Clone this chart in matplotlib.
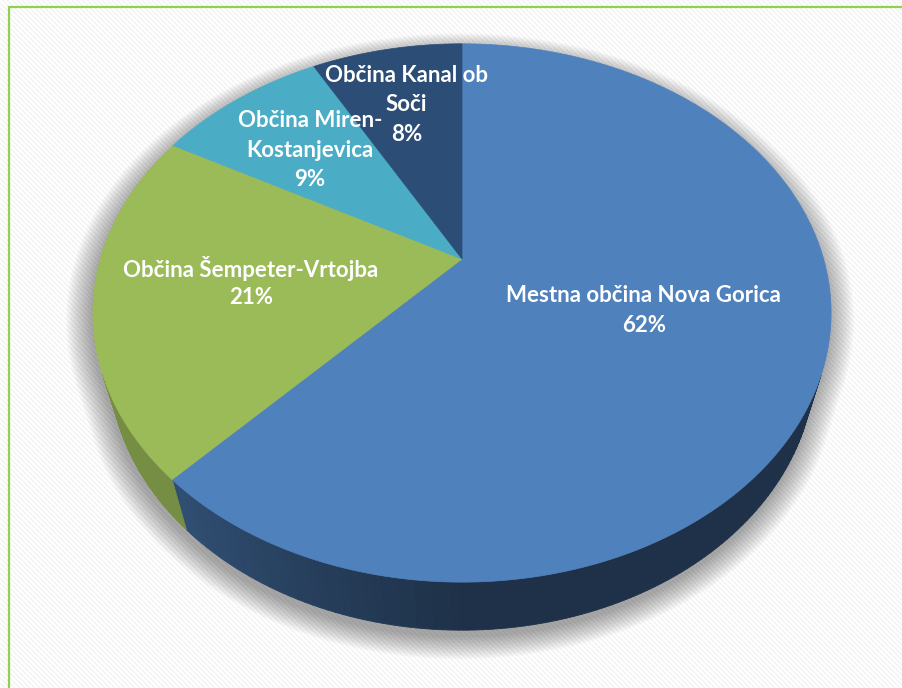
import numpy as np
import matplotlib.pyplot as plt
from matplotlib.patches import Polygon
from matplotlib.collections import LineCollection
from matplotlib.colors import to_rgb

# data
labels = [["Mestna občina Nova Gorica"], ["Občina Šempeter-Vrtojba"],
          ["Občina Miren-", "Kostanjevica"], ["Občina Kanal ob", "Soči"]]
shares = [62, 21, 9, 8]
colors = ['#4f81bd', '#9bbb59', '#4bacc6', '#2c4d75']
label_r = [0.52, 0.58, 0.65, 0.70]
side_dark = [0.38, 0.70, 0.45, 0.45]
side_light = [0.62, 0.76, 0.60, 0.60]

W, H = 903, 688
fig = plt.figure(figsize=(W / 100, H / 100), dpi=100)
ax = fig.add_axes([0, 0, 1, 1])
ax.set_xlim(0, W)
ax.set_ylim(H, 0)
ax.axis('off')

# faint diagonal stripes in the background
offs = np.arange(-H, W + H, 5)
segs = [[(o, 0), (o + H, H)] for o in offs]
ax.add_collection(LineCollection(segs, colors='#f1f1f1', linewidths=0.9, zorder=0))

# green frame (only top and left visible)
ax.plot([9, 9, W], [H, 7, 7], color='#92d050', lw=1.6, zorder=1,
        solid_joinstyle='miter')

# 3D view (perspective) of the pie, in pixel units
cx, cy = 462, 259
f, D = 1262, 3.49
elev = np.radians(45.6)
thick = 0.217
se, ce = np.sin(elev), np.cos(elev)


def project(X, Y, Z=0.0):
    d = D + Y * ce - Z * se
    return cx + f * X / d, cy - f * (Y * se + Z * ce) / d


def rim(phi, Z=0.0):
    return project(np.sin(phi), np.cos(phi), Z)


def visible(phi):
    return 1 + D * ce * np.cos(phi) < 0


# shadow
phis = np.radians(np.linspace(0, 360, 721))
out = [rim(p, -thick) if visible(p) else rim(p) for p in phis]
out = np.array(out)
mid = out.mean(axis=0)
for i in range(16):
    s = 1.0 + 0.0045 * i
    pts = (out - mid) * s + mid + np.array([-2, 7])
    ax.add_patch(Polygon(pts, closed=True, fc='#000000', ec='none',
                         alpha=0.022, zorder=2))

edges = np.concatenate([[0], np.cumsum(shares)]) / sum(shares) * 2 * np.pi

# side walls
for k in range(len(shares)):
    base = np.array(to_rgb(colors[k]))
    ph = np.linspace(edges[k], edges[k + 1], 200)
    for a, b in zip(ph[:-1], ph[1:]):
        m = 0.5 * (a + b)
        if not visible(m):
            continue
        # lighter toward the left, darker at the front / right
        t = np.clip((np.degrees(m) - 180) / 45, 0, 1)
        shade = side_dark[k] + (side_light[k] - side_dark[k]) * t
        c = base * shade
        quad = [rim(a), rim(b), rim(b, -thick), rim(a, -thick)]
        ax.add_patch(Polygon(quad, closed=True, fc=c, ec=c, lw=0.6, zorder=3))

# top faces
for k in range(len(shares)):
    ph = np.linspace(edges[k], edges[k + 1], 200)
    pts = [project(0, 0)] + [rim(p) for p in ph]
    ax.add_patch(Polygon(pts, closed=True, fc=colors[k], ec=colors[k],
                         lw=0.5, zorder=4))

# labels, one text per line
step = 29.5
for k in range(len(shares)):
    m = 0.5 * (edges[k] + edges[k + 1])
    r = label_r[k]
    x, y = project(r * np.sin(m), r * np.cos(m))
    lines = labels[k] + [f"{shares[k]}%"]
    n = len(lines)
    for i, s in enumerate(lines):
        ax.text(x, y + (i - (n - 1) / 2) * step, s, ha='center', va='center',
                color='white', fontsize=16, fontweight='bold', family='Lato',
                zorder=5)

fig.savefig('out.png', dpi=100)
